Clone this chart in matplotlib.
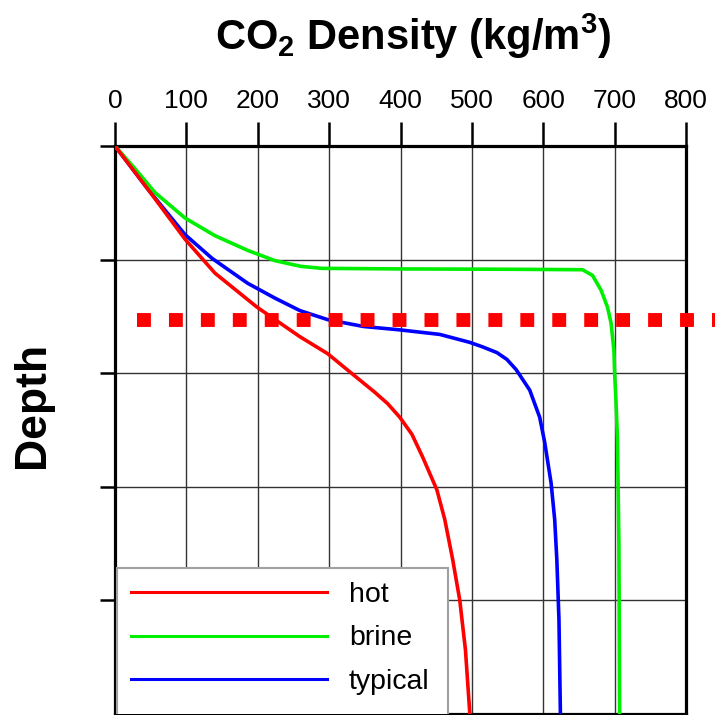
"""
CO2 density vs depth for three settings (hot, brine, typical)
"""
import matplotlib
matplotlib.use('Agg')
import matplotlib.pyplot as plt
from matplotlib.lines import Line2D
from matplotlib.patches import Rectangle

plt.rcParams['font.family'] = ['Liberation Sans', 'DejaVu Sans']
plt.rcParams['mathtext.fontset'] = 'custom'
plt.rcParams['mathtext.rm'] = 'Liberation Sans'
plt.rcParams['mathtext.bf'] = 'Liberation Sans:bold'

# density (kg/m3), depth in grid units (0 top .. 5 bottom)
hot_density = [0, 46, 98, 140, 199, 259, 298, 329, 364, 382, 399, 416, 431, 451, 462, 473,
               483, 491, 497]
hot_depth = [0, 0.38, 0.82, 1.12, 1.42, 1.68, 1.83, 1.99, 2.17, 2.27, 2.39, 2.54, 2.74, 3.03,
             3.29, 3.64, 4.0, 4.44, 4.99]

brine_density = [0, 28, 56, 98, 140, 186, 224, 260, 290, 399, 550, 655, 669, 681, 690,
                 695, 699, 700, 702, 704, 706, 707]
brine_depth = [0, 0.20, 0.41, 0.634, 0.79, 0.92, 1.01, 1.06, 1.078, 1.083, 1.086, 1.09,
               1.14, 1.27, 1.42, 1.56, 1.80, 2.0, 2.26, 2.59, 3.5, 5.0]

typical_density = [0, 46, 98, 136, 186, 224, 259, 298, 348, 399, 455, 497, 515, 535, 549,
                   562, 581, 595, 602, 611, 616, 619, 622, 624]
typical_depth = [0, 0.38, 0.78, 0.99, 1.21, 1.34, 1.45, 1.53, 1.59, 1.62, 1.66, 1.73, 1.77,
                 1.82, 1.88, 1.97, 2.15, 2.39, 2.61, 2.97, 3.29, 3.64, 4.17, 4.99]

dotted_depth = 1.53
dotted_range = [31, 860]

x_ticks = list(range(0, 801, 100))
y_ticks = [0, 1, 2, 3, 4]

fig = plt.figure(figsize=(7.15, 7.15), dpi=100)
ax = fig.add_axes([115 / 715, 1.5 / 715, 571 / 715, 567.5 / 715])

ax.plot(typical_density, typical_depth, color='#0000ff', lw=2.6, zorder=3)
ax.plot(brine_density, brine_depth, color='#00ee00', lw=2.6, zorder=3)
ax.plot(hot_density, hot_depth, color='#ff0000', lw=2.6, zorder=4)

ax.plot(dotted_range, [dotted_depth, dotted_depth], color='#ff0000', lw=10,
        dashes=(1.0, 1.3), solid_capstyle='butt', clip_on=False, zorder=5)

ax.set_xlim(0, 800)
ax.set_ylim(5, 0)
ax.xaxis.tick_top()
ax.set_xticks(x_ticks)
ax.set_yticks(y_ticks)
ax.set_yticklabels([])
ax.tick_params(axis='x', direction='out', length=17, width=1.8, pad=7, labelsize=19)
ax.tick_params(axis='y', direction='out', length=11, width=1.8)
ax.grid(True, color='#333333', lw=1.0, zorder=1)
ax.set_axisbelow(True)
for sp in ax.spines.values():
    sp.set_linewidth(2.3)

# legend box runs into the bottom spine, so draw the frame separately
ax.add_patch(Rectangle((0.0035, -0.005), 0.58, 0.262, transform=ax.transAxes,
                       facecolor='white', edgecolor='#a0a0a0', lw=1.5, zorder=6))

handles = [Line2D([], [], color='#ff0000', lw=2.2),
           Line2D([], [], color='#00ee00', lw=2.2),
           Line2D([], [], color='#0000ff', lw=2.2)]
leg = ax.legend(handles, ['hot', 'brine', 'typical'], loc='lower left',
                bbox_to_anchor=(0.003, 0.0083), borderaxespad=0, fontsize=20.5,
                handlelength=6.9, handletextpad=0.75, labelspacing=0.6, borderpad=0.5,
                frameon=False)
leg.set_zorder(7)

fig.text(413 / 715, 1 - 36 / 715, r'CO$_\mathbf{2}$ Density (kg/m$^\mathbf{3}$)',
         fontsize=30, fontweight='bold', ha='center', va='center')
fig.text(32 / 715, 1 - 405 / 715, 'Depth', rotation=90, fontsize=32,
         fontweight='bold', ha='center', va='center')

fig.savefig('out.png', dpi=100)
